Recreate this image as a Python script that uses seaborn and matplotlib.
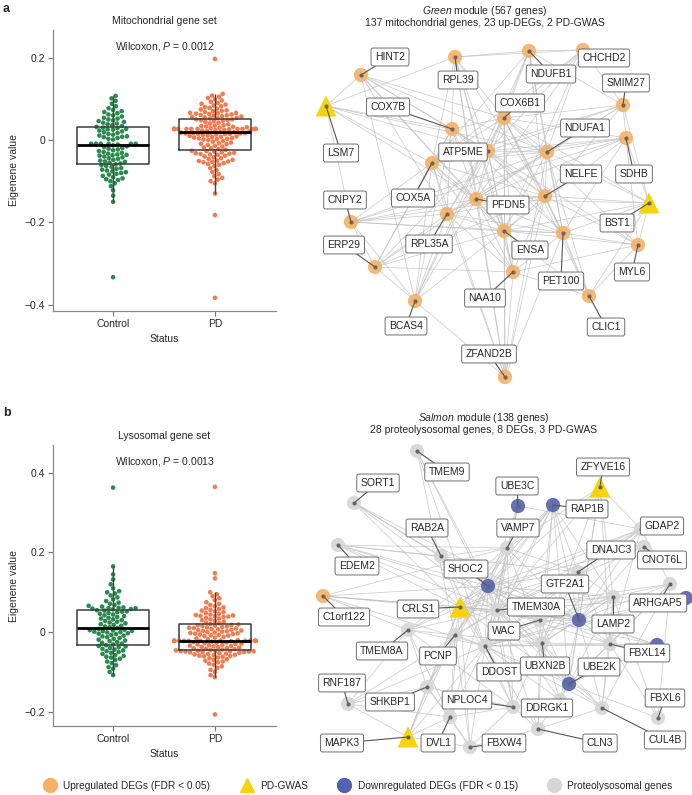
import numpy as np
import pandas as pd
import seaborn as sns
import matplotlib.pyplot as plt
from matplotlib.lines import Line2D

# ---- eigengene values ----
mito_control = [
    -0.333,
    -0.150, -0.135, -0.122, -0.112, -0.105, -0.100, -0.097, -0.095, -0.093, -0.090,
    -0.087, -0.084, -0.082, -0.080, -0.078, -0.076, -0.074, -0.072, -0.070, -0.068,
    -0.065, -0.063, -0.061, -0.059,
    -0.057, -0.055, -0.053, -0.052, -0.050, -0.048, -0.046, -0.044, -0.042, -0.040,
    -0.038, -0.037, -0.036, -0.035, -0.033, -0.031, -0.029, -0.027, -0.025, -0.023,
    -0.021, -0.019, -0.017, -0.015, -0.013,
    -0.011, -0.009, -0.009, -0.009, -0.009, -0.009, -0.009, 0.001, 0.003, 0.005,
    0.007, 0.008, 0.009, 0.011, 0.013, 0.015, 0.017, 0.019, 0.021, 0.023,
    0.025, 0.026, 0.027, 0.029, 0.030,
    0.032, 0.034, 0.036, 0.038, 0.040, 0.042, 0.044, 0.046, 0.048, 0.050,
    0.052, 0.054, 0.057, 0.060, 0.062, 0.065, 0.068, 0.070, 0.073, 0.077,
    0.082, 0.088, 0.095, 0.101, 0.107,
]
mito_pd = [
    -0.383, -0.182,
    -0.130, -0.105, -0.100, -0.096, -0.092, -0.088, -0.083, -0.078, -0.073, -0.068,
    -0.063, -0.060, -0.058, -0.056, -0.054, -0.053, -0.052, -0.051, -0.050, -0.048,
    -0.046, -0.044, -0.042, -0.040, -0.038, -0.036, -0.035, -0.034, -0.033, -0.032,
    -0.031, -0.030, -0.028, -0.027, -0.026,
    -0.024, -0.022, -0.020, -0.018, -0.016, -0.014, -0.012, -0.010, -0.009, -0.008,
    -0.006, -0.004, -0.002, 0.000, 0.001, 0.002, 0.003, 0.004, 0.005, 0.006,
    0.007, 0.008, 0.009, 0.010, 0.011, 0.012, 0.013, 0.014, 0.015, 0.015,
    0.016, 0.016, 0.017, 0.017, 0.018, 0.018, 0.019, 0.019,
    0.021, 0.022, 0.023, 0.024, 0.025, 0.026,
    0.027, 0.027, 0.027, 0.027, 0.027, 0.027, 0.027, 0.027, 0.027, 0.027, 0.027, 0.027,
    0.029, 0.030, 0.031, 0.032, 0.033, 0.034, 0.035, 0.036, 0.038, 0.040,
    0.042, 0.044, 0.046, 0.047, 0.048, 0.049, 0.050, 0.050,
    0.052, 0.053, 0.054, 0.055, 0.056, 0.057, 0.058, 0.059, 0.060, 0.061,
    0.062, 0.063, 0.064, 0.065, 0.066, 0.066, 0.068, 0.070, 0.071, 0.072,
    0.074, 0.076, 0.078, 0.080, 0.082, 0.084, 0.086, 0.088, 0.090, 0.093,
    0.096, 0.099, 0.102, 0.105, 0.108, 0.112, 0.197,
]
lyso_control = [
    -0.108, -0.100, -0.092, -0.088, -0.083, -0.078, -0.074, -0.070, -0.067, -0.064,
    -0.062, -0.060, -0.058, -0.055, -0.052, -0.050, -0.048, -0.046, -0.044, -0.042,
    -0.040, -0.038, -0.036, -0.035, -0.033,
    -0.031, -0.029, -0.027, -0.025, -0.023, -0.021, -0.019, -0.017, -0.015, -0.013,
    -0.011, -0.009, -0.007, -0.005, -0.004, -0.003, -0.001, 0.000, 0.001, 0.002,
    0.003, 0.004, 0.005, 0.006, 0.008,
    0.010, 0.012, 0.014, 0.016, 0.018, 0.020, 0.022, 0.024, 0.026, 0.028,
    0.030, 0.032, 0.034, 0.036, 0.038, 0.040, 0.042, 0.044, 0.046, 0.048,
    0.050, 0.051, 0.052, 0.054, 0.055,
    0.057, 0.058, 0.059, 0.060, 0.060, 0.061, 0.062, 0.064, 0.066, 0.068,
    0.071, 0.074, 0.078, 0.082, 0.087, 0.092, 0.097, 0.100, 0.103, 0.110,
    0.120, 0.132, 0.145, 0.165, 0.363,
]
lyso_pd = [
    -0.207, -0.113, -0.108, -0.100, -0.095, -0.090, -0.086, -0.082, -0.079, -0.076,
    -0.074, -0.072, -0.070, -0.068, -0.066, -0.064, -0.062, -0.061, -0.060, -0.059,
    -0.058, -0.057, -0.056, -0.055, -0.054, -0.053, -0.052, -0.051, -0.050, -0.050,
    -0.049, -0.049, -0.048, -0.048, -0.048, -0.047, -0.047,
    -0.046, -0.045, -0.044, -0.043, -0.042, -0.041, -0.040, -0.039, -0.038, -0.037,
    -0.036, -0.035, -0.034, -0.033, -0.032, -0.031, -0.030, -0.029, -0.028, -0.027,
    -0.026, -0.025, -0.024, -0.023,
    -0.022, -0.022, -0.022, -0.022, -0.022, -0.022, -0.022, -0.022, -0.022, -0.022,
    -0.022, -0.022, -0.022, -0.022,
    -0.021, -0.020, -0.018, -0.016, -0.014, -0.012, -0.010, -0.009, -0.008, -0.007,
    -0.006, -0.005, -0.004, -0.003, -0.002, -0.001, 0.000, 0.001, 0.002, 0.003,
    0.004, 0.005, 0.006, 0.007, 0.008, 0.009, 0.010, 0.011, 0.012, 0.013,
    0.014, 0.015, 0.016, 0.017, 0.018, 0.019, 0.020,
    0.022, 0.024, 0.026, 0.028, 0.030, 0.032, 0.034, 0.036, 0.038, 0.039,
    0.040, 0.041, 0.042, 0.043, 0.044, 0.046, 0.048, 0.050, 0.052, 0.054,
    0.056, 0.058, 0.060, 0.062, 0.065, 0.068, 0.071, 0.075, 0.080, 0.085,
    0.090, 0.095, 0.100, 0.135, 0.148, 0.365,
]

# ---- network a: Green module (layout in figure pixels) ----
net_a_genes = ["HINT2", "RPL39", "NDUFB1", "CHCHD2", "SMIM27", "LSM7", "COX7B", "COX6B1",
               "NDUFA1", "SDHB", "ATP5ME", "COX5A", "NELFE", "PFDN5", "BST1", "CNPY2",
               "RPL35A", "ENSA", "PET100", "MYL6", "ERP29", "BCAS4", "NAA10", "CLIC1", "ZFAND2B"]
net_a_x = [361, 455, 529, 583, 623, 326, 452, 504, 547, 626, 488, 432, 545, 476, 649, 351,
           447, 504, 563, 638, 375, 415, 513, 589, 505]
net_a_y = [75, 57, 51, 50, 105, 106, 129, 118, 152, 138, 151, 163, 196, 199, 203, 222,
           214, 231, 233, 245, 267, 301, 272, 296, 377]
net_a_kind = ["up", "up", "up", "up", "up", "gwas", "up", "up", "up", "up", "up", "up", "up",
              "up", "gwas", "up", "up", "up", "up", "up", "up", "up", "up", "up", "up"]
net_a_lab_x = [390, 458, 551, 604, 626, 341, 388, 520, 585, 634, 463, 413, 581, 508, 617,
               345, 429, 530, 561, 632, 344, 406, 485, 606, 489]
net_a_lab_y = [57, 80, 74, 58, 83, 153, 107, 103, 128, 174, 152, 198, 174, 205, 223, 200,
               244, 250, 281, 272, 245, 326, 298, 327, 354]
net_a_edges = {
    "ZFAND2B": ["NAA10", "ENSA", "PFDN5", "RPL35A", "COX5A", "NELFE", "PET100", "COX6B1", "RPL39", "BCAS4", "NDUFA1"],
    "BCAS4": ["ERP29", "COX5A", "RPL35A", "ATP5ME", "COX7B", "HINT2", "PFDN5", "CNPY2", "NDUFB1", "ENSA"],
    "ERP29": ["CNPY2", "COX5A", "RPL35A", "PFDN5", "ENSA", "NAA10", "ATP5ME", "COX7B", "NELFE"],
    "LSM7": ["COX7B", "ATP5ME", "NDUFA1", "PFDN5", "CNPY2", "COX5A", "RPL39", "HINT2"],
    "HINT2": ["COX7B", "ATP5ME", "COX6B1", "PFDN5", "ENSA", "NDUFA1", "RPL35A"],
    "RPL39": ["NDUFB1", "CHCHD2", "COX6B1", "ATP5ME", "PFDN5", "ENSA", "NAA10", "RPL35A", "NELFE", "COX5A"],
    "NDUFB1": ["CHCHD2", "COX6B1", "ATP5ME", "NELFE", "PET100", "SMIM27", "COX5A", "NDUFA1"],
    "CHCHD2": ["COX6B1", "ATP5ME", "COX5A", "PFDN5", "NDUFA1", "SMIM27", "ENSA"],
    "SMIM27": ["COX6B1", "ATP5ME", "COX5A", "PFDN5", "NDUFA1", "SDHB", "NELFE"],
    "SDHB": ["BST1", "NDUFA1", "PFDN5", "COX5A", "MYL6", "ENSA", "ATP5ME", "COX6B1", "PET100", "CNPY2"],
    "BST1": ["NELFE", "PET100", "MYL6", "CLIC1", "ENSA", "COX6B1", "NDUFA1", "PFDN5", "SMIM27"],
    "MYL6": ["PET100", "CLIC1", "ENSA", "NAA10", "NELFE", "COX6B1", "ATP5ME"],
    "CLIC1": ["PET100", "NELFE", "ENSA", "NAA10", "NDUFA1", "COX6B1"],
    "COX7B": ["ATP5ME", "COX6B1", "PFDN5", "ENSA", "NELFE", "COX5A", "PET100"],
    "COX6B1": ["ATP5ME", "NDUFA1", "PFDN5", "ENSA", "NELFE", "COX5A", "RPL35A", "PET100", "NAA10"],
    "ATP5ME": ["NDUFA1", "PFDN5", "ENSA", "NELFE", "COX5A", "RPL35A", "PET100", "NAA10"],
    "NDUFA1": ["PFDN5", "ENSA", "NELFE", "COX5A", "RPL35A", "PET100", "CNPY2"],
    "COX5A": ["PFDN5", "ENSA", "RPL35A", "NELFE", "CNPY2", "NAA10"],
    "NELFE": ["PFDN5", "ENSA", "PET100", "NAA10", "RPL35A"],
    "PFDN5": ["ENSA", "RPL35A", "PET100", "NAA10", "CNPY2"],
    "CNPY2": ["RPL35A", "ENSA", "NELFE", "PET100"],
    "RPL35A": ["ENSA", "NAA10", "PET100"],
    "ENSA": ["NAA10", "PET100"],
    "PET100": ["NAA10"],
}

# ---- network b: Salmon module ----
net_b_genes = ["TMEM9", "SORT1", "UBE3C", "RAP1B", "ZFYVE16", "GDAP2", "CNOT6L", "RAB2A",
               "VAMP7", "EDEM2", "DNAJC3", "SHOC2", "GTF2A1", "C1orf122", "ARHGAP5", "CRLS1",
               "TMEM30A", "WAC", "TMEM8A", "PCNP", "DDOST", "UBXN2B", "LAMP2", "FBXL14",
               "UBE2K", "RNF187", "SHKBP1", "NPLOC4", "DDRGK1", "DVL1", "MAPK3", "FBXW4",
               "CLN3", "FBXL6", "CUL4B", "DEG_a", "DEG_b"]
net_b_x = [417, 354, 518, 553, 600, 641, 644, 441, 507, 338, 578, 488, 579, 323, 670, 460,
           497, 540, 408, 455, 485, 542, 613, 610, 569, 348, 427, 513, 560, 450, 408, 470,
           538, 658, 602, 686, 657]
net_b_y = [451, 503, 506, 505, 487, 529, 547, 556, 548, 545, 572, 586, 620, 596, 584, 607,
           610, 620, 630, 635, 646, 643, 597, 644, 684, 704, 687, 707, 700, 717, 737, 747,
           729, 718, 708, 598, 645]
net_b_kind = ["prot", "prot", "down", "down", "gwas", "prot", "prot", "prot", "prot", "prot",
              "prot", "down", "down", "up", "prot", "gwas", "prot", "prot", "prot", "prot",
              "prot", "prot", "prot", "prot", "down", "prot", "prot", "prot", "prot", "prot",
              "gwas", "prot", "prot", "prot", "prot", "down", "down"]
net_b_lab_x = [447, 378, 517, 587, 603, 662, 662, 427, 518, 357, 611, 466, 565, 344, 658,
               418, 536, 504, 382, 438, 499, 545, 613, 647, 599, 342, 390, 467, 547, 438,
               342, 504, 600, 665, 665, None, None]
net_b_lab_y = [472, 483, 486, 509, 467, 526, 560, 528, 528, 566, 550, 569, 584, 617, 603,
               609, 607, 631, 651, 656, 672, 666, 624, 653, 667, 683, 702, 700, 708, 743,
               743, 743, 743, 698, 740, None, None]
net_b_edges = {
    "TMEM9": ["SHOC2", "TMEM30A", "DDOST", "PCNP"],
    "SORT1": ["SHOC2", "CRLS1", "TMEM30A", "GTF2A1", "RAB2A"],
    "UBE3C": ["VAMP7", "SHOC2", "TMEM30A", "GDAP2", "DDOST"],
    "RAP1B": ["VAMP7", "SHOC2", "TMEM30A", "CRLS1", "DDOST", "GTF2A1", "UBXN2B", "UBE2K", "PCNP", "WAC", "LAMP2", "DNAJC3"],
    "ZFYVE16": ["GDAP2", "SHOC2", "TMEM30A", "GTF2A1", "UBE2K", "LAMP2", "UBXN2B", "FBXL14", "VAMP7"],
    "GDAP2": ["SHOC2", "TMEM30A", "CRLS1", "DNAJC3", "GTF2A1", "UBXN2B", "DDOST", "FBXL14", "ARHGAP5"],
    "CNOT6L": ["TMEM30A", "SHOC2", "GTF2A1"],
    "RAB2A": ["SHOC2", "TMEM30A", "GTF2A1", "VAMP7", "EDEM2", "CRLS1", "DDOST"],
    "VAMP7": ["SHOC2", "TMEM30A", "CRLS1", "DDOST", "PCNP", "GTF2A1", "UBXN2B", "TMEM8A", "DNAJC3", "NPLOC4"],
    "EDEM2": ["SHOC2", "TMEM30A", "CRLS1", "GTF2A1", "VAMP7", "DNAJC3"],
    "DNAJC3": ["SHOC2", "TMEM30A", "CRLS1", "UBXN2B", "DDOST", "GTF2A1", "LAMP2", "FBXL14"],
    "SHOC2": ["TMEM30A", "CRLS1", "GTF2A1", "DDOST", "UBXN2B", "PCNP", "WAC", "LAMP2", "UBE2K", "FBXL14", "NPLOC4", "DVL1", "SHKBP1", "TMEM8A"],
    "GTF2A1": ["TMEM30A", "CRLS1", "DDOST", "UBXN2B", "LAMP2", "FBXL14", "UBE2K", "DDRGK1", "CUL4B", "WAC"],
    "C1orf122": ["SHOC2", "TMEM30A", "CRLS1", "GTF2A1", "VAMP7", "DDOST", "TMEM8A"],
    "ARHGAP5": ["LAMP2", "FBXL14", "UBE2K", "GTF2A1", "TMEM30A", "CUL4B", "FBXL6"],
    "CRLS1": ["TMEM30A", "DDOST", "UBXN2B", "PCNP", "WAC", "TMEM8A", "LAMP2", "UBE2K", "NPLOC4", "FBXW4", "DVL1", "MAPK3", "SHKBP1"],
    "TMEM30A": ["DDOST", "UBXN2B", "PCNP", "WAC", "LAMP2", "FBXL14", "UBE2K", "NPLOC4", "DDRGK1", "CLN3", "CUL4B", "TMEM8A", "RNF187"],
    "WAC": ["DDOST", "UBXN2B", "LAMP2", "UBE2K", "CLN3"],
    "TMEM8A": ["DDOST", "PCNP", "RNF187", "NPLOC4", "SHKBP1", "DVL1"],
    "PCNP": ["DDOST", "UBXN2B", "SHKBP1", "DVL1", "MAPK3", "FBXW4"],
    "DDOST": ["UBXN2B", "LAMP2", "UBE2K", "NPLOC4", "DDRGK1", "CLN3", "FBXW4", "DVL1", "MAPK3", "CUL4B", "FBXL14"],
    "UBXN2B": ["LAMP2", "FBXL14", "UBE2K", "CLN3", "DDRGK1", "CUL4B", "NPLOC4"],
    "LAMP2": ["FBXL14", "UBE2K", "CUL4B", "FBXL6", "DEG_a"],
    "FBXL14": ["UBE2K", "CUL4B", "FBXL6", "DEG_b"],
    "UBE2K": ["CUL4B", "CLN3", "DDRGK1", "FBXL6", "DEG_b"],
    "RNF187": ["SHKBP1", "DVL1", "MAPK3", "DDOST"],
    "SHKBP1": ["DVL1", "MAPK3", "FBXW4", "NPLOC4"],
    "NPLOC4": ["DVL1", "CLN3", "FBXW4", "DDRGK1"],
    "DVL1": ["MAPK3", "FBXW4"],
    "CLN3": ["CUL4B", "FBXW4"],
    "MAPK3": ["FBXW4"],
    "DEG_a": ["GTF2A1", "TMEM30A", "DDOST"],
    "DEG_b": ["GTF2A1", "TMEM30A", "SHOC2", "DDOST"],
}

node_colors = {"up": "#f5b266", "gwas": "#f7d30f", "down": "#5361b0", "prot": "#d6d6d6"}
status_colors = {"Control": "#2b8a4e", "PD": "#f37b4f"}

sns.set_theme(style="ticks")
plt.rcParams["font.family"] = ["Liberation Sans", "DejaVu Sans"]
plt.rcParams["mathtext.fontset"] = "custom"
plt.rcParams["mathtext.it"] = "Liberation Sans:italic"
plt.rcParams["mathtext.rm"] = "Liberation Sans"

W, H = 692, 795
fig = plt.figure(figsize=(W / 100, H / 100), dpi=100)


def draw_swarm(rect, ctrl, pdv, title, ptext, ylim, yticks, ylabels):
    ax = fig.add_axes(rect)
    df = pd.DataFrame({
        "Status": ["Control"] * len(ctrl) + ["PD"] * len(pdv),
        "Eigenene value": ctrl + pdv,
    })
    sns.swarmplot(data=df, x="Status", y="Eigenene value", hue="Status",
                  palette=status_colors, size=3.3, ax=ax, legend=False, zorder=2)
    sns.boxplot(data=df, x="Status", y="Eigenene value", ax=ax, fill=False,
                color="#3c3c3c", width=0.7, showfliers=False, showcaps=False,
                linewidth=1.1, medianprops=dict(color="black", linewidth=2),
                whiskerprops=dict(color="#444444", linewidth=1.0), zorder=3)
    ax.set_xlim(-0.59, 1.6)
    ax.set_ylim(*ylim)
    ax.set_yticks(yticks)
    ax.set_yticklabels(ylabels)
    ax.set_title(title, fontsize=7.5, pad=4)
    ax.text(0.5, 0.943, ptext, transform=ax.transAxes, ha="center", va="center", fontsize=7.5)
    ax.set_xlabel("Status", fontsize=7.5, labelpad=4)
    ax.set_ylabel("Eigenene value", fontsize=7.5, labelpad=4)
    ax.tick_params(labelsize=7.5, length=3.5, width=0.8, color="#777777", pad=2)
    for s in ["top", "right"]:
        ax.spines[s].set_visible(False)
    for s in ["left", "bottom"]:
        ax.spines[s].set_color("#888888")
        ax.spines[s].set_linewidth(0.9)
    return ax


draw_swarm([53 / W, 1 - 311 / H, 223 / W, 281 / H], mito_control, mito_pd,
           "Mitochondrial gene set", r"Wilcoxon, $P$ = 0.0012",
           (-0.415, 0.267), [-0.4, -0.2, 0, 0.2], ["\u22120.4", "\u22120.2", "0", "0.2"])
draw_swarm([53 / W, 1 - 726 / H, 223 / W, 281 / H], lyso_control, lyso_pd,
           "Lysosomal gene set", r"Wilcoxon, $P$ = 0.0013",
           (-0.236, 0.470), [-0.2, 0, 0.2, 0.4], ["\u22120.2", "0", "0.2", "0.4"])

# overlay in pixel space for the networks, panel letters and legend
net_ax = fig.add_axes([0, 0, 1, 1])
net_ax.set_xlim(0, W)
net_ax.set_ylim(H, 0)
net_ax.axis("off")


def draw_net(ax, genes, xs, ys, kinds, lxs, lys, edges):
    pos = {g: (x, y) for g, x, y in zip(genes, xs, ys)}
    for a, nbrs in edges.items():
        for b in nbrs:
            ax.plot([pos[a][0], pos[b][0]], [pos[a][1], pos[b][1]],
                    color="#bcbcbc", lw=0.55, alpha=0.75, zorder=1)
    df = pd.DataFrame({"gene": genes, "x": xs, "y": ys, "kind": kinds})
    circ = df[df["kind"] != "gwas"]
    tri = df[df["kind"] == "gwas"]
    sns.scatterplot(data=circ, x="x", y="y", hue="kind", palette=node_colors, s=105,
                    marker="o", edgecolor="none", alpha=0.9, ax=ax, legend=False, zorder=2)
    sns.scatterplot(data=tri, x="x", y="y", hue="kind", palette=node_colors, s=230,
                    marker="^", edgecolor="none", ax=ax, legend=False, zorder=2)
    for g, x, y, lx, ly in zip(genes, xs, ys, lxs, lys):
        if lx is None:
            continue
        ax.plot([x, lx], [y, ly], color="#555555", lw=0.8, zorder=3)
        ax.scatter([x], [y], s=4, color="#666666", zorder=4)
        ax.text(lx, ly, g, ha="center", va="center", fontsize=7.5, zorder=5,
                bbox=dict(boxstyle="round,pad=0.38,rounding_size=0.2", fc="white",
                          ec="#6e6e6e", lw=0.7))


draw_net(net_ax, net_a_genes, net_a_x, net_a_y, net_a_kind, net_a_lab_x, net_a_lab_y, net_a_edges)
draw_net(net_ax, net_b_genes, net_b_x, net_b_y, net_b_kind, net_b_lab_x, net_b_lab_y, net_b_edges)

net_ax.text(485, 11, r"$\it{Green}$ module (567 genes)", ha="center", va="center", fontsize=7.5)
net_ax.text(485, 23, "137 mitochondrial genes, 23 up-DEGs, 2 PD-GWAS", ha="center", va="center", fontsize=7.5)
net_ax.text(484, 418, r"$\it{Salmon}$ module (138 genes)", ha="center", va="center", fontsize=7.5)
net_ax.text(484, 430, "28 proteolysosomal genes, 8 DEGs, 3 PD-GWAS", ha="center", va="center", fontsize=7.5)

net_ax.text(3, 9, "a", fontsize=9, fontweight="bold", va="center")
net_ax.text(3, 413, "b", fontsize=9, fontweight="bold", va="center")

legend_items = [
    ("o", node_colors["up"], "Upregulated DEGs (FDR < 0.05)"),
    ("^", node_colors["gwas"], "PD-GWAS"),
    ("o", node_colors["down"], "Downregulated DEGs (FDR < 0.15)"),
    ("o", node_colors["prot"], "Proteolysosomal genes"),
]
handles = [Line2D([], [], marker=m, color=c, linestyle="none", markersize=10) for m, c, _ in legend_items]
net_ax.legend(handles, [t for _, _, t in legend_items], ncol=4, loc="center",
              bbox_to_anchor=(0.515, 1 - 786 / H), bbox_transform=fig.transFigure,
              frameon=False, fontsize=7.3, handletextpad=0.3, columnspacing=2.6)

fig.savefig("out.png", dpi=100)
